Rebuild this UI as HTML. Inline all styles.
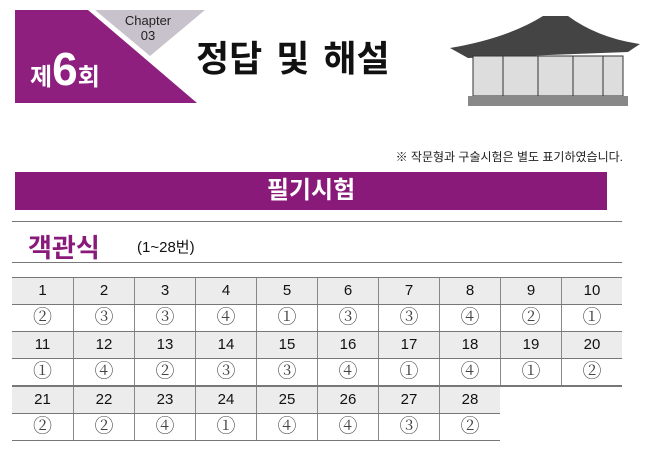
<!DOCTYPE html>
<html><head><meta charset="utf-8">
<style>
body{margin:0;width:645px;height:453px;background:#fff;position:relative;overflow:hidden;font-family:"Liberation Sans","Noto Sans CJK KR",sans-serif;}
.a{position:absolute}
.cell{position:absolute;box-sizing:border-box;text-align:center;border-left:1px solid #888;}
.num{background:#ececec;font-size:15px;color:#111;line-height:27px;font-weight:500;}
.ans{background:#fff;font-family:"Liberation Serif","Noto Serif CJK SC",serif;font-size:19px;color:#444;line-height:27px;}
</style></head><body>
<svg class="a" style="left:0;top:0" width="220" height="110">
<polygon points="15,10 88,10 197,103 15,103" fill="#8e1f7e"/>
<polygon points="95,10 205,10 150,56" fill="#c7c2cc"/>
</svg>
<div class="a" style="left:118px;top:13px;width:60px;text-align:center;font-size:13px;line-height:15px;color:#222">Chapter<br>03</div>
<div class="a" style="left:30px;top:44px;color:#fff;font-weight:bold;font-size:24px;line-height:50px">제<span style="font-size:46px">6</span>회</div>
<div class="a" style="left:196px;top:30px;font-size:36px;font-weight:bold;color:#111;letter-spacing:0px;word-spacing:4px">정답 및 해설</div>
<svg class="a" style="left:448px;top:8px" width="195" height="105">
<path d="M2,40 Q60,30 95,8 L120,8 Q150,30 192,36 L180,44 L20,50 Z" fill="#444"/>
<rect x="25" y="48" width="150" height="40" fill="#ddd" stroke="#333"/>
<g stroke="#333" fill="none"><line x1="55" y1="48" x2="55" y2="88"/><line x1="90" y1="48" x2="90" y2="88"/><line x1="125" y1="48" x2="125" y2="88"/><line x1="155" y1="48" x2="155" y2="88"/></g>
<rect x="20" y="88" width="160" height="10" fill="#888"/>
</svg>
<div class="a" style="right:22px;top:148px;font-size:12px;color:#222">※ 작문형과 구술시험은 별도 표기하였습니다.</div>
<div class="a" style="left:15px;top:172px;width:592px;height:38px;background:#8a1a7a;color:#fff;font-weight:bold;font-size:24px;text-align:center;line-height:38px">필기시험</div>
<div class="a" style="left:12px;top:221px;width:610px;height:1px;background:#777"></div>
<div class="a" style="left:28px;top:228px;font-size:26px;font-weight:bold;color:#8a1a7a">객관식</div>
<div class="a" style="left:137px;top:236px;font-size:15px;color:#111">(1~28번)</div>
<div class="a" style="left:12px;top:262px;width:610px;height:1px;background:#777"></div>
<div id="tbl"></div>
<script>
const answers = [2,3,3,4,1,3,3,4,2,1, 1,4,2,3,3,4,1,4,1,2, 2,2,4,1,4,4,3,2];
const circled = ['','①','②','③','④'];
const tbl = document.getElementById('tbl');
const x0 = 12, cw = 61, rowTops = [277, 331, 386], rh = 27;
for (let r = 0; r < 3; r++) {
  const n = Math.min(10, answers.length - r * 10);
  const y = rowTops[r];
  const line = (top, w) => { const d = document.createElement('div'); d.className='a'; d.style.cssText=`left:${x0}px;top:${top}px;width:${w}px;height:1px;background:#777`;
    
    
    tbl.appendChild(d); };
  for (let c = 0; c < n; c++) {
    const i = r * 10 + c;
    const h = document.createElement('div');
    h.className = 'cell num';
    h.style.cssText += `left:${x0 + c * cw}px;top:${y}px;width:${cw}px;height:${rh}px;` + (c === 0 ? 'border-left:none;' : '');
    h.textContent = i + 1;
    
    
    tbl.appendChild(h);
    const a = document.createElement('div');
    a.className = 'cell ans';
    a.style.cssText += `left:${x0 + c * cw}px;top:${y + rh}px;width:${cw}px;height:${rh}px;` + (c === 0 ? 'border-left:none;' : '');
    a.textContent = circled[answers[i]];
    
    
    tbl.appendChild(a);
  }
  line(y, 610); line(y + rh, n * cw); line(y + 2 * rh, n * cw);
}
</script>
</body></html>
